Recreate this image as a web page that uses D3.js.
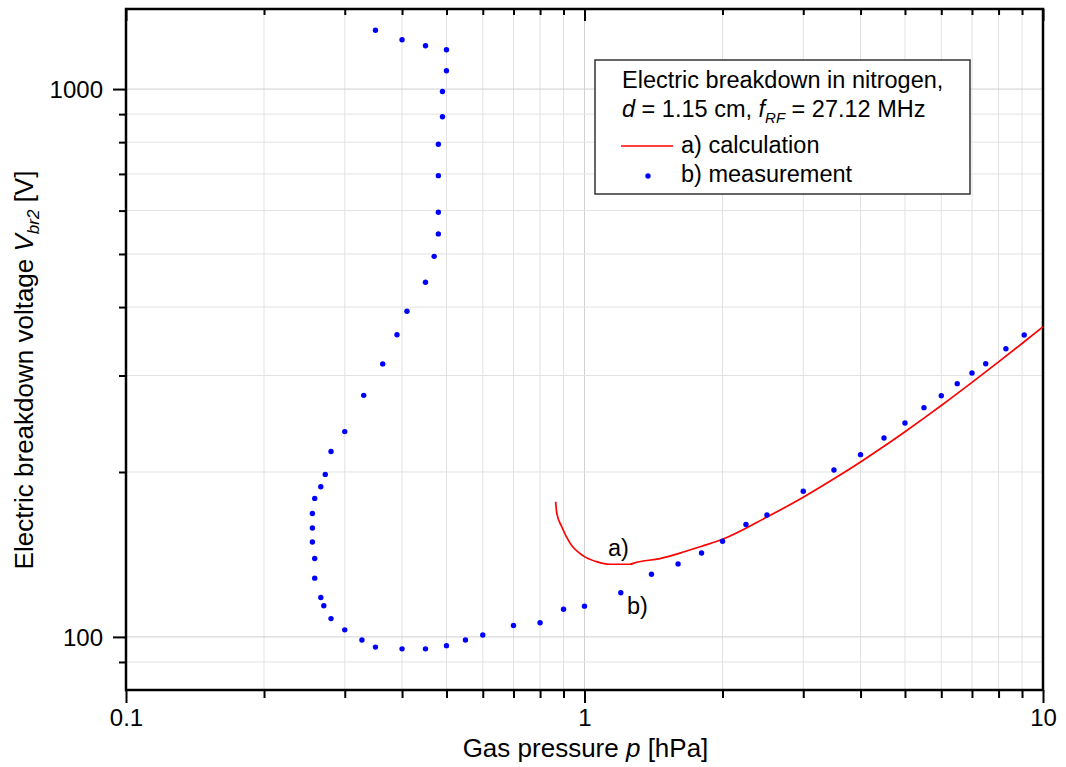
<!DOCTYPE html>
<html>
<head>
<meta charset="utf-8">
<script src="https://cdn.jsdelivr.net/npm/d3@7"></script>
<style>
  html, body { margin: 0; padding: 0; background: #fff; }
  svg { display: block; font-family: "Liberation Sans", Arial, sans-serif; }
</style>
</head>
<body>
<svg id="chart" width="1066" height="767"></svg>
<script>
// Measured breakdown voltage (RF discharge in nitrogen)
const measPressure = [0.35, 0.40, 0.45, 0.50, 0.50, 0.49, 0.49, 0.48, 0.48, 0.48,
  0.48, 0.47, 0.45, 0.41, 0.39, 0.363, 0.33, 0.30, 0.28, 0.272,
  0.266, 0.258, 0.255, 0.255, 0.255, 0.258, 0.258, 0.266, 0.27, 0.28,
  0.30, 0.327, 0.35, 0.40, 0.45, 0.50, 0.55, 0.60, 0.70, 0.80,
  0.90, 1.0, 1.2, 1.4, 1.6, 1.8, 2.0, 2.25, 2.5, 3.0,
  3.5, 4.0, 4.5, 5.0, 5.5, 6.0, 6.5, 7.0, 7.5, 8.3, 9.1];
const measVoltage = [1280, 1230, 1200, 1180, 1080, 990, 890, 793, 695, 596,
  544, 495, 444, 393, 356, 315, 276, 237, 218, 198,
  188, 179, 168, 158, 149, 139, 128, 118, 114, 108,
  103, 98.7, 95.8, 95.1, 95.1, 96.4, 98.7, 100.8, 104.9, 106.1,
  112.3, 113.8, 120.4, 130.1, 135.9, 142.3, 149.5, 160.4, 166.9, 184.5,
  201.7, 215.1, 230.7, 245.8, 262.1, 275.6, 289.9, 303.2, 315.3, 335.8, 355.7];

// Calculated breakdown curve
const calcPressure = [0.865, 0.870, 0.892, 0.93, 0.994, 1.063, 1.137, 1.257, 1.289, 1.461,
  1.615, 1.802, 2.0, 2.5, 3.0, 3.5, 4.0, 4.5, 5.0, 5.5,
  6.0, 7.0, 8.0, 9.0, 10];
const calcVoltage = [176.5, 168.2, 158.9, 148.3, 140.6, 137.2, 135.7, 135.7, 136.6, 139.0,
  142.2, 146.4, 150.7, 165.5, 179.9, 194.4, 208.6, 222.8, 236.9, 250.8,
  264.5, 291.5, 317.7, 343.2, 368.1];

// Axis ticks
const xMajorTicks = [0.1, 1, 10];
const xMinorTicks = [0.2, 0.3, 0.4, 0.5, 0.6, 0.7, 0.8, 0.9, 2, 3, 4, 5, 6, 7, 8, 9];
const yMajorTicks = [100, 1000];
const yMinorTicks = [90, 200, 300, 400, 500, 600, 700, 800, 900];
const xTickLabels = ["0.1", "1", "10"];
const yTickLabels = ["100", "1000"];

const svg = d3.select("#chart");
const plotLeft = 126, plotRight = 1043, plotTop = 9, plotBottom = 690;

const x = d3.scaleLog().domain([0.1, 10]).range([plotLeft, plotRight]);
const y = d3.scaleLog().domain([80, 1400]).range([plotBottom, plotTop]);

// grid
const grid = svg.append("g");
grid.selectAll("line.gx").data(xMinorTicks.concat(xMajorTicks)).join("line")
  .attr("class", "gx")
  .attr("x1", d => x(d)).attr("x2", d => x(d))
  .attr("y1", plotTop).attr("y2", plotBottom)
  .attr("stroke", d => xMajorTicks.includes(d) ? "#d0d0d0" : "#e2e2e2")
  .attr("stroke-width", 1);
grid.selectAll("line.gy").data(yMinorTicks.concat(yMajorTicks)).join("line")
  .attr("class", "gy")
  .attr("x1", plotLeft).attr("x2", plotRight)
  .attr("y1", d => y(d)).attr("y2", d => y(d))
  .attr("stroke", d => yMajorTicks.includes(d) ? "#d0d0d0" : "#e2e2e2")
  .attr("stroke-width", 1);

// axes
function styleAxis(g) {
  g.select(".domain").remove();
  g.selectAll(".tick line").attr("stroke", "#000").attr("stroke-width", 2);
  g.selectAll(".tick text").attr("fill", "#000").attr("font-size", 24)
    .attr("font-family", "Liberation Sans, Arial, sans-serif");
}

svg.append("g").attr("transform", `translate(${plotLeft},0)`)
  .call(d3.axisLeft(y).tickValues(yMajorTicks).tickSize(13).tickPadding(10)
    .tickFormat((d, i) => yTickLabels[i]))
  .call(styleAxis)
  .call(g => g.selectAll(".tick text").attr("dy", "0.35em"));
svg.append("g").attr("transform", `translate(${plotLeft},0)`)
  .call(d3.axisLeft(y).tickValues(yMinorTicks).tickSize(7).tickFormat(""))
  .call(styleAxis);

svg.append("g").attr("transform", `translate(0,${plotBottom})`)
  .call(d3.axisBottom(x).tickValues(xMajorTicks).tickSize(13).tickPadding(6)
    .tickFormat((d, i) => xTickLabels[i]))
  .call(styleAxis);
svg.append("g").attr("transform", `translate(0,${plotBottom})`)
  .call(d3.axisBottom(x).tickValues(xMinorTicks).tickSize(8).tickFormat(""))
  .call(styleAxis);

// inward ticks along the top edge
svg.append("g").attr("transform", `translate(0,${plotTop})`)
  .call(d3.axisBottom(x).tickValues(xMajorTicks).tickSize(12).tickFormat(""))
  .call(styleAxis);
svg.append("g").attr("transform", `translate(0,${plotTop})`)
  .call(d3.axisBottom(x).tickValues(xMinorTicks).tickSize(6).tickFormat(""))
  .call(styleAxis);

// frame
svg.append("rect")
  .attr("x", plotLeft).attr("y", plotTop)
  .attr("width", plotRight - plotLeft).attr("height", plotBottom - plotTop)
  .attr("fill", "none").attr("stroke", "#000").attr("stroke-width", 2.5);

// calculation curve
const line = d3.line()
  .x((d, i) => x(calcPressure[i]))
  .y(d => y(d))
  .curve(d3.curveMonotoneX);
svg.append("path")
  .datum(calcVoltage)
  .attr("d", line)
  .attr("fill", "none")
  .attr("stroke", "#ff0000")
  .attr("stroke-width", 1.7);

// measurements
svg.append("g").selectAll("circle")
  .data(measVoltage).join("circle")
  .attr("cx", (d, i) => x(measPressure[i]))
  .attr("cy", d => y(d))
  .attr("r", 2.7)
  .attr("fill", "#0000ff");

// curve annotations
svg.append("text").attr("x", 608).attr("y", 556).attr("font-size", 23.5).text("a)");
svg.append("text").attr("x", 627).attr("y", 614).attr("font-size", 23.5).text("b)");

// axis titles
const xt = svg.append("text")
  .attr("x", (plotLeft + plotRight) / 2 + 1).attr("y", 757)
  .attr("text-anchor", "middle").attr("font-size", 26);
xt.append("tspan").text("Gas pressure ");
xt.append("tspan").attr("font-style", "italic").text("p");
xt.append("tspan").text(" [hPa]");

const yt = svg.append("text")
  .attr("transform", "translate(33,370) rotate(-90)")
  .attr("text-anchor", "middle").attr("font-size", 26);
yt.append("tspan").text("Electric breakdown voltage ");
yt.append("tspan").attr("font-style", "italic").text("V");
yt.append("tspan").attr("font-style", "italic").attr("font-size", 17).attr("dy", 6).text("br2");
yt.append("tspan").attr("dy", -6).text(" [V]");

// legend
const lg = svg.append("g");
lg.append("rect").attr("x", 595).attr("y", 60).attr("width", 375).attr("height", 134)
  .attr("fill", "#fff").attr("stroke", "#333").attr("stroke-width", 1.5);
lg.append("text").attr("x", 622).attr("y", 88).attr("font-size", 23.5)
  .text("Electric breakdown in nitrogen,");
const l2 = lg.append("text").attr("x", 622).attr("y", 117).attr("font-size", 23.5);
l2.append("tspan").attr("font-style", "italic").text("d");
l2.append("tspan").text(" = 1.15 cm, ");
l2.append("tspan").attr("font-style", "italic").text("f");
l2.append("tspan").attr("font-style", "italic").attr("font-size", 15).attr("dy", 6).text("RF");
l2.append("tspan").attr("dy", -6).text(" = 27.12 MHz");
lg.append("line").attr("x1", 621).attr("x2", 673).attr("y1", 146).attr("y2", 146)
  .attr("stroke", "#ff0000").attr("stroke-width", 1.7);
lg.append("text").attr("x", 681).attr("y", 153).attr("font-size", 23.5).text("a) calculation");
lg.append("circle").attr("cx", 648).attr("cy", 176).attr("r", 2.7).attr("fill", "#0000ff");
lg.append("text").attr("x", 681).attr("y", 182).attr("font-size", 23.5).text("b) measurement");
</script>
</body>
</html>
